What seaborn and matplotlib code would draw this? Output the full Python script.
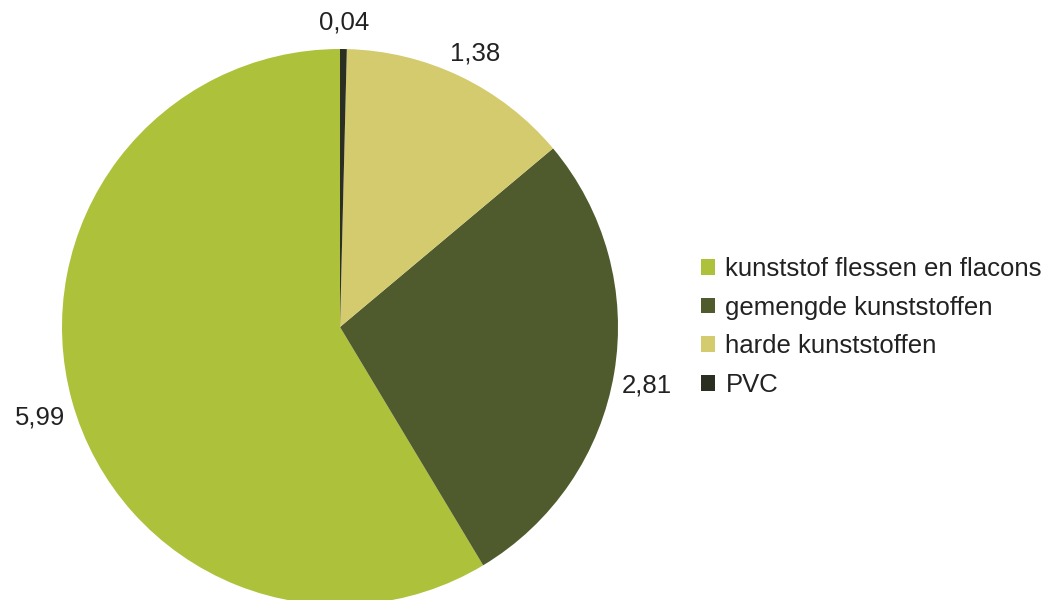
import numpy as np
import matplotlib
matplotlib.use("Agg")
import matplotlib.pyplot as plt
import seaborn as sns

# data
categorieen = ["kunststof flessen en flacons", "gemengde kunststoffen", "harde kunststoffen", "PVC"]
waarden = [5.99, 2.81, 1.38, 0.04]
labels_waarden = ["5,99", "2,81", "1,38", "0,04"]
kleuren = ["#adc23a", "#4f5b2d", "#d4cb6e", "#2b2f22"]

sns.set_theme(style="white")
plt.rcParams['font.family'] = ['Liberation Sans', 'DejaVu Sans']
palet = sns.color_palette(kleuren)

fig = plt.figure(figsize=(10.47, 6), dpi=100)
ax = fig.add_axes([62 / 1047, -5 / 600, 556 / 1047, 556 / 600])

wedges, _ = ax.pie(waarden, colors=palet, startangle=90, counterclock=True,
                   radius=1.0, wedgeprops=dict(linewidth=0))
ax.set_xlim(-1, 1)
ax.set_ylim(-1, 1)
ax.set_aspect('equal')

# value labels just outside each slice
for w, tekst in zip(wedges, labels_waarden):
    hoek = np.deg2rad((w.theta1 + w.theta2) / 2)
    r = 1.12
    ax.text(r * np.cos(hoek), r * np.sin(hoek) - 0.025, tekst, ha='center', va='center',
            fontsize=18.5, color='#222222', clip_on=False)

leg = fig.legend(wedges, categorieen, loc='center left', bbox_to_anchor=(701 / 1047, 1 - 327 / 600),
                 frameon=False, fontsize=18.5, handlelength=0.55, handleheight=0.55,
                 handletextpad=0.4, labelspacing=0.57, borderpad=0, borderaxespad=0)
for t in leg.get_texts():
    t.set_color('#222222')

plt.savefig("out.png", dpi=100)
